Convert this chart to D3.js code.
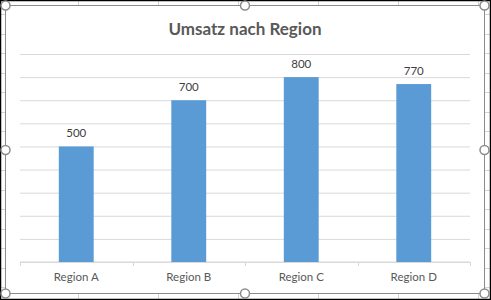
<!DOCTYPE html>
<html>
  <head>
    <title>Umsatz nach Region</title>
    <script src="https://d3js.org/d3.v7.min.js"></script>
    <style>
      body { margin: 0; background: #fff; }
      text { font-family: Lato, "Liberation Sans", sans-serif; fill: #595959; }
    </style>
  </head>
  <body>
    <script>
      var width = 491;
      var height = 300;
      var margin = {top: 54, left: 20, right: 21, bottom: 38};

      var regions = ["Region A", "Region B", "Region C", "Region D"];
      var umsatz = [500, 700, 800, 770];
      var yTicks = [0, 100, 200, 300, 400, 500, 600, 700, 800, 900];

      var data = regions.map(function(r, i) { return {x: r, y: umsatz[i]}; });

      var svg = d3.select("body")
        .append("svg")
        .attr("width", width)
        .attr("height", height);

      // spreadsheet behind the chart
      svg.append("rect")
        .attr("width", width)
        .attr("height", height)
        .attr("fill", "#fff");

      var sheet = svg.append("g").attr("stroke", "#d4d4d4").attr("stroke-width", 1);
      d3.range(78, width, 80).forEach(function(x) {
        sheet.append("line").attr("x1", x + 0.5).attr("x2", x + 0.5).attr("y1", 0).attr("y2", height);
      });
      d3.range(14, height, 19.5).forEach(function(y) {
        sheet.append("line").attr("x1", 0).attr("x2", width).attr("y1", Math.round(y) + 0.5).attr("y2", Math.round(y) + 0.5);
      });

      // window edge
      svg.append("rect")
        .attr("x", 0.5).attr("y", 0.5)
        .attr("width", width - 1).attr("height", height - 1)
        .attr("fill", "none")
        .attr("stroke", "#000")
        .attr("stroke-width", 1.5);

      // chart area
      svg.append("rect")
        .attr("x", 5.5).attr("y", 5.5)
        .attr("width", 479).attr("height", 288)
        .attr("fill", "#fff")
        .attr("stroke", "#8c8c8c")
        .attr("stroke-width", 1);

      var xScale = d3.scaleBand()
        .domain(regions)
        .range([margin.left, width - margin.right])
        .paddingInner(0.69)
        .paddingOuter(0.345);

      var yScale = d3.scaleLinear()
        .domain([0, 900])
        .range([height - margin.bottom, margin.top]);

      // gridlines
      svg.append("g")
        .attr("transform", `translate(${margin.left},0)`)
        .call(d3.axisLeft(yScale).tickValues(yTicks).tickSize(-(width - margin.left - margin.right)).tickFormat(""))
        .call(function(g) { g.select(".domain").remove(); })
        .selectAll("line")
          .attr("stroke", "#d9d9d9");

      // x axis with ticks between categories
      var bandStep = xScale.step();
      var xAxis = svg.append("g")
        .attr("transform", `translate(0,${height - margin.bottom})`);
      xAxis.append("line")
        .attr("x1", margin.left).attr("x2", width - margin.right)
        .attr("stroke", "#d9d9d9");
      xAxis.selectAll(".sep")
        .data(d3.range(regions.length + 1))
        .enter()
        .append("line")
          .attr("class", "sep")
          .attr("x1", function(i) { return Math.round(margin.left + i * bandStep) + 0.5; })
          .attr("x2", function(i) { return Math.round(margin.left + i * bandStep) + 0.5; })
          .attr("y1", 0).attr("y2", 4)
          .attr("stroke", "#d9d9d9");
      xAxis.selectAll(".lbl")
        .data(regions)
        .enter()
        .append("text")
          .attr("class", "lbl")
          .attr("x", function(d) { return xScale(d) + xScale.bandwidth() / 2; })
          .attr("y", 19)
          .attr("text-anchor", "middle")
          .style("font-size", "11.5px")
          .text(function(d) { return d; });

      svg.selectAll(".bar")
        .data(data)
        .enter()
        .append("rect")
          .attr("class", "bar")
          .attr("x", function(d) { return xScale(d.x); })
          .attr("y", function(d) { return yScale(d.y); })
          .attr("width", xScale.bandwidth())
          .attr("height", function(d) { return yScale(0) - yScale(d.y); })
          .attr("fill", "#5b9bd5");

      svg.selectAll(".val")
        .data(data)
        .enter()
        .append("text")
          .attr("class", "val")
          .attr("x", function(d) { return xScale(d.x) + xScale.bandwidth() / 2; })
          .attr("y", function(d) { return yScale(d.y) - 9; })
          .attr("text-anchor", "middle")
          .style("font-size", "11.5px")
          .style("fill", "#404040")
          .text(function(d) { return d.y; });

      svg.append("text")
        .attr("x", 245)
        .attr("y", 35)
        .attr("text-anchor", "middle")
        .style("font-size", "17px")
        .style("font-weight", "bold")
        .text("Umsatz nach Region");

      // selection handles
      var handles = [[5.5, 5.5], [245, 5.5], [484.5, 5.5], [5.5, 150], [484.5, 150], [5.5, 293.5], [245, 293.5], [484.5, 293.5]];
      svg.selectAll(".handle")
        .data(handles)
        .enter()
        .append("circle")
          .attr("class", "handle")
          .attr("cx", function(d) { return d[0]; })
          .attr("cy", function(d) { return d[1]; })
          .attr("r", 4.5)
          .attr("fill", "#fff")
          .attr("stroke", "#8c8c8c")
          .attr("stroke-width", 1.5);
    </script>
  </body>
</html>
